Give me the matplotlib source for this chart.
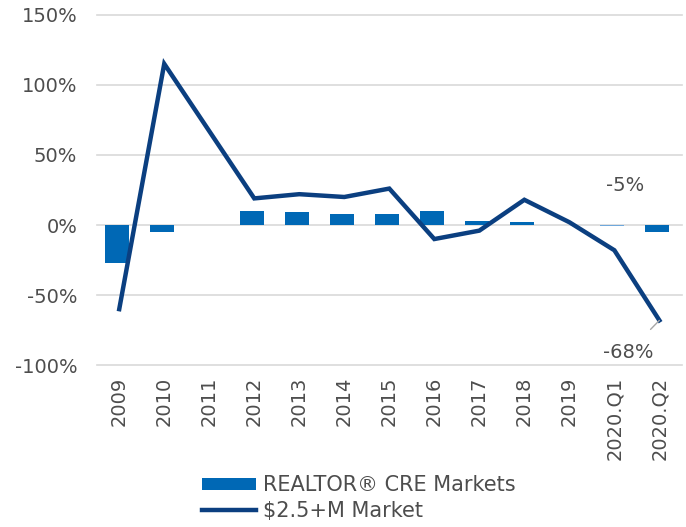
import matplotlib
matplotlib.use("Agg")
import matplotlib.pyplot as plt
import matplotlib.ticker as mticker
import numpy as np

# ── DATA ─────────────────────────────────────────────────────────────────────
categories = ["2009", "2010", "2011", "2012", "2013", "2014", "2015",
              "2016", "2017", "2018", "2019", "2020.Q1", "2020.Q2"]
cre_markets = [-27, -5, 0, 10, 9, 8, 8, 10, 3, 2, 0, -1, -5]
luxury_market = [-60, 115, 67, 19, 22, 20, 26, -10, -4, 18, 2, -18, -68]
y_ticks = [-100, -50, 0, 50, 100, 150]

# ── COLOURS ──────────────────────────────────────────────────────────────────
BAR = "#0068B5"
BAR_LIGHT = "#6FA8DC"
LINE = "#0B3F80"
TEXT = "#4D4D4D"
GRID = "#D9D9D9"

plt.rcParams["font.family"] = ["DejaVu Sans"]

fig = plt.figure(figsize=(6.86, 5.27), dpi=100)
ax = fig.add_axes([0.141, 0.307, 0.853, 0.665])

x = np.arange(len(categories))
bar_colors = [BAR] * len(categories)
bar_colors[categories.index("2020.Q1")] = BAR_LIGHT
bars = ax.bar(x - 0.05, cre_markets, width=0.53, color=bar_colors, zorder=2,
              label="REALTOR® CRE Markets")
line, = ax.plot(x, luxury_market, color=LINE, lw=3.2, zorder=3,
                solid_joinstyle="miter", label="$2.5+M Market")

ax.set_ylim(-100, 150)
ax.set_xlim(-0.5, len(categories) - 0.5)
ax.set_yticks(y_ticks)
ax.yaxis.set_major_formatter(mticker.FuncFormatter(lambda v, p: f"{v:.0f}%"))
ax.set_xticks(x)
ax.set_xticklabels(categories, rotation=90)
ax.tick_params(axis="both", length=0, labelsize=14, colors=TEXT)
ax.tick_params(axis="y", pad=14)
ax.tick_params(axis="x", pad=8)
ax.grid(axis="y", color=GRID, lw=1.2, zorder=0)
for gl in ax.get_ygridlines():
    gl.set_clip_on(False)
for s in ax.spines.values():
    s.set_visible(False)

# annotations
last = len(categories) - 1
ax.text(last - 0.75, 28, f"{cre_markets[-1]}%", ha="center", va="center",
        fontsize=14, color=TEXT)
ax.annotate(f"{luxury_market[-1]}%", xy=(last, luxury_market[-1]),
            xytext=(last - 0.7, -91), ha="center", va="center",
            fontsize=14, color=TEXT,
            arrowprops=dict(arrowstyle="-", color="#A6A6A6", lw=1,
                            shrinkA=11, shrinkB=0))

fig.legend([bars, line], [bars.get_label(), line.get_label()],
           loc="center", bbox_to_anchor=(0.523, 0.055), ncol=1,
           frameon=False, fontsize=15, labelcolor=TEXT, handlelength=2.6,
           handleheight=0.55, handletextpad=0.3, labelspacing=0.25)

fig.savefig("out.png", dpi=100)
